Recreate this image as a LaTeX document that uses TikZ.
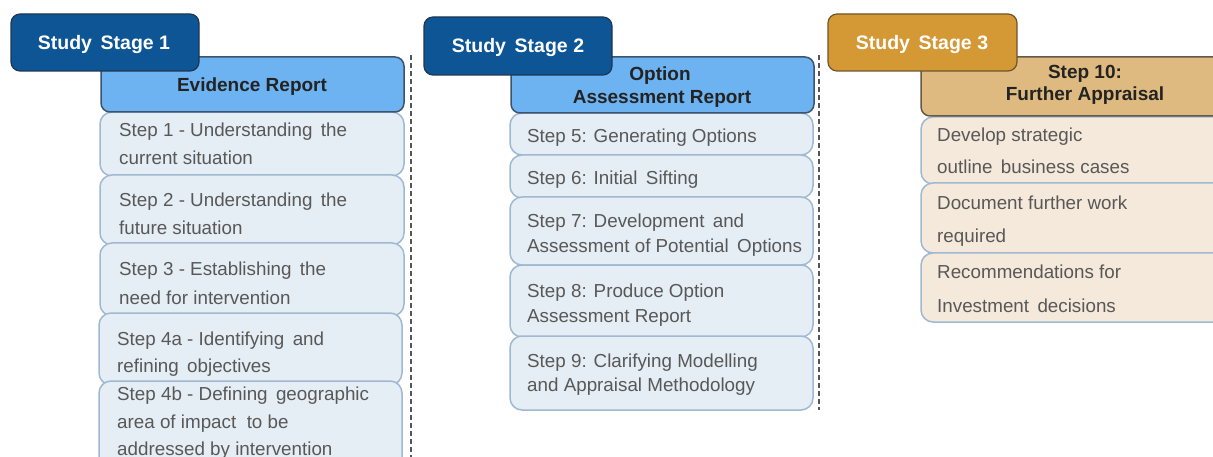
\documentclass[tikz,border=0pt]{standalone}
\usepackage{fontspec}
\setmainfont{Liberation Sans}
\definecolor{tabblue}{RGB}{13,85,148}
\definecolor{tabblueline}{RGB}{30,55,85}
\definecolor{hdrblue}{RGB}{110,179,241}
\definecolor{hdrline}{RGB}{60,85,110}
\definecolor{stepfill}{RGB}{229,237,245}
\definecolor{stepline}{RGB}{160,184,210}
\definecolor{steptext}{RGB}{88,88,88}
\definecolor{hdrtext}{RGB}{35,35,35}
\definecolor{tabgold}{RGB}{212,152,52}
\definecolor{tabgoldline}{RGB}{110,85,45}
\definecolor{hdrtan}{RGB}{222,186,128}
\definecolor{hdrtanline}{RGB}{100,88,70}
\definecolor{beige}{RGB}{244,233,218}
\definecolor{sepgray}{RGB}{85,85,85}
\newcommand\mybox[6]{\node[#1, anchor=north west, minimum width={(#5-#3)*1pt}, minimum height={(#6-#4)*1pt}] (#2) at (#3,#4) {};}
\tikzset{
  base/.style={inner sep=0pt, outer sep=0pt, rectangle},
  tabB/.style={base, fill=tabblue, draw=tabblueline, line width=1.2pt, rounded corners=9pt},
  tabG/.style={base, fill=tabgold, draw=tabgoldline, line width=1.2pt, rounded corners=9pt},
  hdrB/.style={base, fill=hdrblue, draw=hdrline, line width=1.5pt, rounded corners=9pt},
  hdrT/.style={base, fill=hdrtan, draw=hdrtanline, line width=1.5pt, rounded corners=9pt},
  stepB/.style={base, fill=stepfill, draw=stepline, line width=1.5pt, rounded corners=12pt},
  stepT/.style={base, fill=beige, draw=stepline, line width=1.5pt, rounded corners=12pt},
  tabtxt/.style={inner sep=0pt, anchor=base, text=white, font=\fontsize{19.5}{23}\selectfont\bfseries},
  hdrtxt/.style={inner sep=0pt, anchor=base, text=hdrtext, font=\fontsize{19}{23}\selectfont\bfseries},
  stxt/.style={inner sep=0pt, anchor=base west, text=steptext, font=\fontsize{18.8}{23}\selectfont},
  sep/.style={draw=sepgray, line width=2pt, dash pattern=on 5pt off 3pt},
}
\begin{document}
\begin{tikzpicture}[x=1pt,y=-1pt]
\useasboundingbox (0,0) rectangle (1213,457);
% separators
\coordinate (d1a) at (411,55); \coordinate (d1b) at (411,460);
\coordinate (d2a) at (819,55); \coordinate (d2b) at (819,410);
\draw[sep] (d1a) -- (d1b);
\draw[sep] (d2a) -- (d2b);
% ---------- Stage 1 ----------
\mybox{stepB}{s1}{100}{112}{404}{176}
\mybox{stepB}{s2}{100}{175}{404}{245}
\mybox{stepB}{s3}{100}{243}{404}{316}
\mybox{stepB}{s4a}{99}{313}{402}{385}
\mybox{stepB}{s4b}{99}{381}{402}{472}
\mybox{hdrB}{h1}{101}{57}{404}{112}
\mybox{tabB}{t1}{11}{14}{199}{71}
\node[tabtxt] (t1t) at (104,50) {Study\, Stage 1};
\node[hdrtxt] (h1t) at (252,92) {Evidence Report};
\node[stxt] (s1l1) at (119,137) {Step 1 - Understanding\, the};
\node[stxt] (s1l2) at (119,165) {current situation};
\node[stxt] (s2l1) at (119,207) {Step 2 - Understanding\, the};
\node[stxt] (s2l2) at (119,235) {future situation};
\node[stxt] (s3l1) at (119,276) {Step 3 - Establishing\, the};
\node[stxt] (s3l2) at (119,304) {need for intervention};
\node[stxt] (s4al1) at (117,345) {Step 4a - Identifying\, and};
\node[stxt] (s4al2) at (117,372) {refining\, objectives};
\node[stxt] (s4bl1) at (117,400) {Step 4b - Defining\, geographic};
\node[stxt] (s4bl2) at (117,428) {area of impact\ \ to be};
\node[stxt] (s4bl3) at (117,455) {addressed by intervention};
% ---------- Stage 2 ----------
\mybox{stepB}{s5}{510}{113}{813}{155}
\mybox{stepB}{s6}{510}{155}{813}{198}
\mybox{stepB}{s7}{510}{197}{813}{265}
\mybox{stepB}{s8}{510}{265}{813}{337}
\mybox{stepB}{s9}{510}{336}{813}{410}
\mybox{hdrB}{h2}{511}{57}{814}{113}
\mybox{tabB}{t2}{424}{17}{612}{75}
\node[tabtxt] (t2t) at (518,53) {Study\, Stage 2};
\node[hdrtxt] (h2a) at (660,81) {Option};
\node[hdrtxt] (h2b) at (662,104) {Assessment Report};
\node[stxt] (s5l1) at (527,143) {Step 5: Generating Options};
\node[stxt] (s6l1) at (527,185) {Step 6: Initial\, Sifting};
\node[stxt] (s7l1) at (527,228) {Step 7: Development\, and};
\node[stxt] (s7l2) at (527,252) {Assessment of Potential\, Options};
\node[stxt] (s8l1) at (527,298) {Step 8: Produce Option};
\node[stxt] (s8l2) at (527,322) {Assessment Report};
\node[stxt] (s9l1) at (527,367) {Step 9: Clarifying Modelling};
\node[stxt] (s9l2) at (527,391) {and Appraisal Methodology};
% ---------- Stage 3 ----------
\mybox{stepT}{d1}{921}{117}{1230}{184}
\mybox{stepT}{d2}{921}{183}{1230}{253}
\mybox{stepT}{d3}{921}{253}{1230}{322}
\mybox{hdrT}{h3}{921}{57}{1230}{116}
\mybox{tabG}{t3}{828}{14}{1017}{71}
\node[tabtxt] (t3t) at (922,50) {Study\, Stage 3};
\node[hdrtxt] (h3a) at (1085,79) {Step 10:};
\node[hdrtxt] (h3b) at (1085,101) {Further Appraisal};
\node[stxt] (d1l1) at (937,142) {Develop strategic};
\node[stxt] (d1l2) at (937,174) {outline\, business cases};
\node[stxt] (d2l1) at (937,210) {Document further work};
\node[stxt] (d2l2) at (937,243) {required};
\node[stxt] (d3l1) at (937,278) {Recommendations for};
\node[stxt] (d3l2) at (937,312) {Investment\, decisions};
\end{tikzpicture}
\end{document}
